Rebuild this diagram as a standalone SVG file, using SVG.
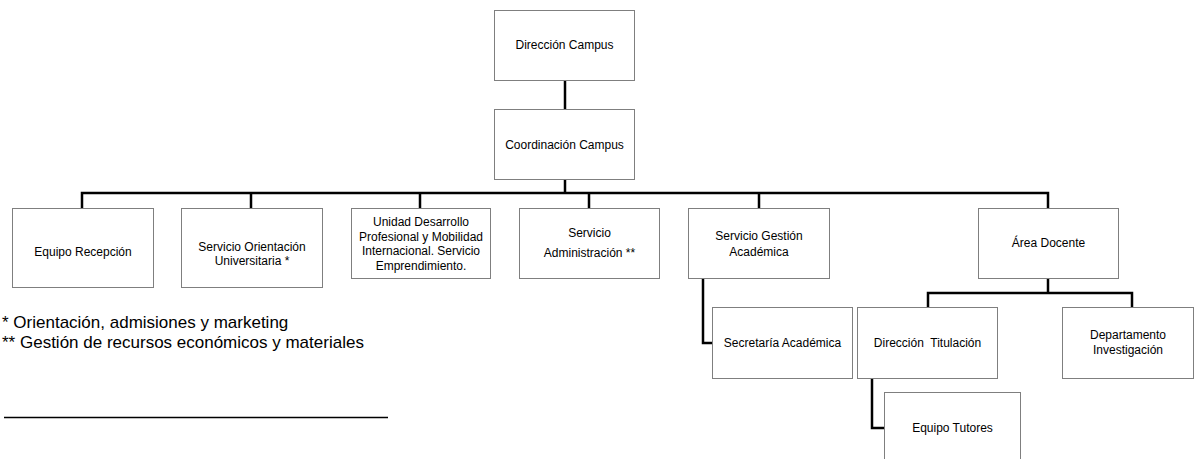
<svg xmlns="http://www.w3.org/2000/svg" width="1195" height="459" viewBox="0 0 1195 459">
<style>
.box{fill:#fff;stroke:#7f7f7f;stroke-width:1}
.t{font-family:"Liberation Sans",Arial,sans-serif;font-size:12px;fill:#000;text-anchor:middle}
.fn{font-family:"Liberation Sans",Arial,sans-serif;font-size:17px;fill:#000}
.c{fill:none;stroke:#000;stroke-width:2.5}
</style>
<rect width="1195" height="459" fill="#fff"/>
<g id="connectors">
<path class="c" d="M565 80V109"/>
<path class="c" d="M565 179V193"/>
<path class="c" d="M82 208V193H1048V208"/>
<path class="c" d="M251 193V208M420 193V208M589 193V208M759 193V208"/>
<path class="c" d="M1048 278V293"/>
<path class="c" d="M928 307V293H1132V307"/>
<path class="c" d="M703 278V343H712"/>
<path class="c" d="M872 378V428H884"/>
</g>
<g id="direccion-campus"><rect class="box" x="494.5" y="10.5" width="140" height="70"/><text class="t" x="564.5" y="49">Dirección Campus</text></g>
<g id="coordinacion-campus"><rect class="box" x="494.5" y="109.5" width="140" height="70"/><text class="t" x="564.5" y="149">Coordinación Campus</text></g>
<g id="equipo-recepcion"><rect class="box" x="12.5" y="208.5" width="141" height="79"/><text class="t" x="83" y="256">Equipo Recepción</text></g>
<g id="servicio-orientacion"><rect class="box" x="181.5" y="208.5" width="141" height="79"/><text class="t" x="252" y="251">Servicio Orientación</text><text class="t" x="252" y="265">Universitaria *</text></g>
<g id="unidad-desarrollo"><rect class="box" x="351.5" y="208.5" width="139" height="70"/><text class="t" x="421" y="226">Unidad Desarrollo</text><text class="t" x="421" y="240.5">Profesional y Mobilidad</text><text class="t" x="421" y="255">Internacional. Servicio</text><text class="t" x="421" y="269.5">Emprendimiento.</text></g>
<g id="servicio-administracion"><rect class="box" x="519.5" y="208.5" width="140" height="70"/><text class="t" x="589.5" y="237">Servicio</text><text class="t" x="589.5" y="257">Administración **</text></g>
<g id="servicio-gestion"><rect class="box" x="688.5" y="208.5" width="141" height="70"/><text class="t" x="759" y="240">Servicio Gestión</text><text class="t" x="759" y="256">Académica</text></g>
<g id="area-docente"><rect class="box" x="978.5" y="208.5" width="140" height="70"/><text class="t" x="1048.5" y="247">Área Docente</text></g>
<g id="secretaria-academica"><rect class="box" x="712.5" y="307.5" width="140" height="71"/><text class="t" x="782.5" y="347">Secretaría Académica</text></g>
<g id="direccion-titulacion"><rect class="box" x="857.5" y="307.5" width="140" height="71"/><text class="t" x="927.5" y="347" xml:space="preserve">Dirección  Titulación</text></g>
<g id="departamento-investigacion"><rect class="box" x="1062.5" y="307.5" width="131" height="71"/><text class="t" x="1128" y="339">Departamento</text><text class="t" x="1128" y="354">Investigación</text></g>
<g id="equipo-tutores"><rect class="box" x="884.5" y="392.5" width="136" height="80"/><text class="t" x="952.5" y="432">Equipo Tutores</text></g>
<g id="notes">
<text class="fn" x="2" y="328">* Orientación, admisiones y marketing</text>
<text class="fn" x="2" y="348">** Gestión de recursos económicos y materiales</text>
<path d="M4 417.5H388" stroke="#000" stroke-width="1.3"/>
</g>
</svg>
